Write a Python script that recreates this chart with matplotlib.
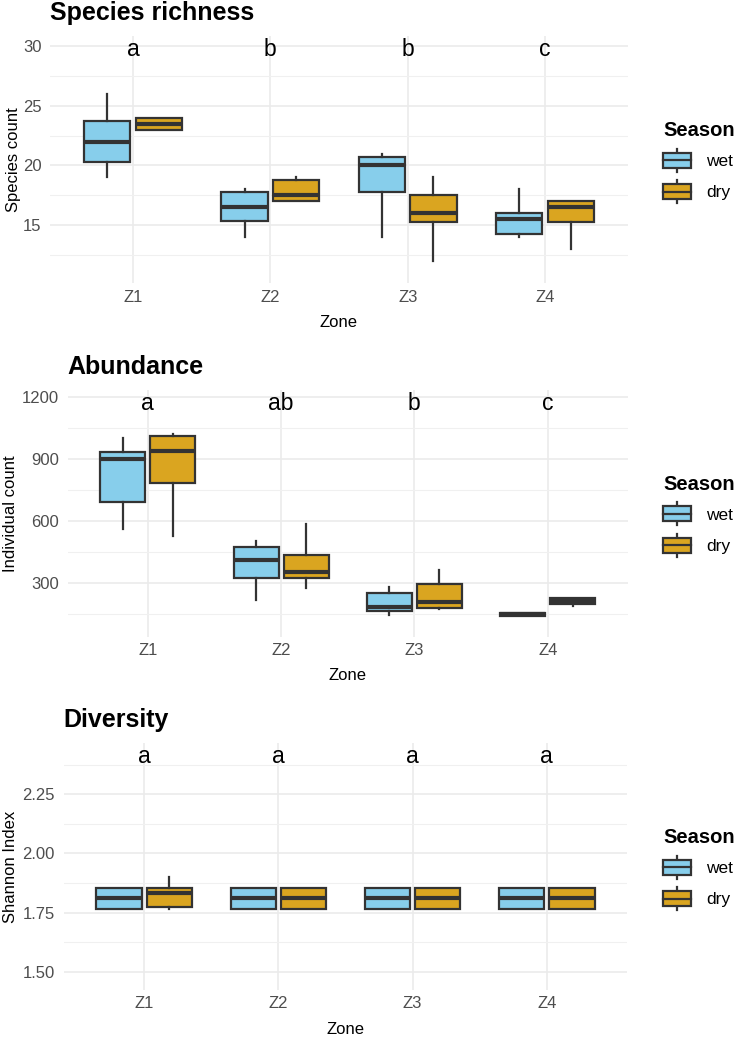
import numpy as np
import matplotlib.pyplot as plt
import matplotlib
from matplotlib.patches import Patch, Rectangle
from matplotlib.lines import Line2D
from matplotlib.legend_handler import HandlerBase
from matplotlib.ticker import MultipleLocator, FormatStrFormatter

plt.rcParams['font.family'] = ['Liberation Sans', 'DejaVu Sans']

zones = ['Z1', 'Z2', 'Z3', 'Z4']
seasons = ['wet', 'dry']

# five-number summaries per zone: (whisker low, q1, median, q3, whisker high)
rich_wet = [(19, 20.25, 22, 23.75, 26), (14, 15.3, 16.5, 17.75, 18),
            (14, 17.75, 20, 20.75, 21), (14, 14.25, 15.5, 16, 18)]
rich_dry = [(23, 23, 23.5, 24, 24), (17, 17, 17.5, 18.75, 19),
            (12, 15.25, 16, 17.5, 19), (13, 15.25, 16.5, 17, 17)]
rich_letters = ['a', 'b', 'b', 'c']

abund_wet = [(560, 692, 900, 932, 1000), (216, 323, 410, 475, 502),
             (143, 163, 180, 250, 281), (140, 140, 147, 154, 154)]
abund_dry = [(527, 785, 938, 1014, 1023), (274, 321, 350, 436, 583),
             (171, 179, 208, 292, 362), (188, 195, 212, 225, 225)]
abund_letters = ['a', 'ab', 'b', 'c']

div_wet = [(1.764, 1.764, 1.81, 1.855, 1.855), (1.764, 1.764, 1.81, 1.855, 1.855),
           (1.764, 1.764, 1.81, 1.855, 1.855), (1.764, 1.764, 1.81, 1.855, 1.855)]
div_dry = [(1.764, 1.775, 1.834, 1.855, 1.90), (1.764, 1.764, 1.81, 1.855, 1.855),
           (1.764, 1.764, 1.81, 1.855, 1.855), (1.764, 1.764, 1.81, 1.855, 1.855)]
div_letters = ['a', 'a', 'a', 'a']

colors = {'wet': '#87CEEB', 'dry': '#DAA520'}
edge = '#333333'
W, H = 737, 1039


class BoxKey(HandlerBase):
    def create_artists(self, legend, orig_handle, xdescent, ydescent,
                       width, height, fontsize, trans):
        x0, y0 = -xdescent, -ydescent
        bh = height * 0.67
        cy = y0 + height / 2
        cx = x0 + width / 2
        wl = Line2D([cx, cx], [y0, y0 + height], color=edge, lw=1.6, transform=trans)
        rect = Rectangle((x0, cy - bh / 2), width, bh, facecolor=orig_handle.get_facecolor(),
                         edgecolor=edge, lw=1.6, transform=trans)
        med = Line2D([x0, x0 + width], [cy, cy], color=edge, lw=1.6, transform=trans)
        return [wl, rect, med]


def stats(rows):
    return [dict(whislo=r[0], q1=r[1], med=r[2], q3=r[3], whishi=r[4]) for r in rows]


def panel(box, title, ylabel, wet, dry, letters, ylim, major, minor, fmt, letter_y, ylab_x):
    l, r, t, b = box
    ax = fig.add_axes([l / W, 1 - b / H, (r - l) / W, (b - t) / H])
    x = np.arange(1, len(zones) + 1)
    for data, name, off in [(wet, 'wet', -0.1875), (dry, 'dry', 0.1875)]:
        ax.bxp(stats(data), positions=x + off, widths=0.3375, patch_artist=True,
               showfliers=False, showcaps=False, manage_ticks=False,
               boxprops=dict(facecolor=colors[name], edgecolor=edge, linewidth=1.6),
               medianprops=dict(color=edge, linewidth=3, solid_capstyle='butt'),
               whiskerprops=dict(color=edge, linewidth=1.6))
    for xi, lab in zip(x, letters):
        ax.text(xi, letter_y, lab, ha='center', va='baseline', fontsize=16.5, color='black')
    ax.set_xlim(0.4, 4.6)
    ax.set_ylim(*ylim)
    ax.set_xticks(x)
    ax.set_xticklabels(zones)
    ax.yaxis.set_major_locator(MultipleLocator(major))
    ax.yaxis.set_minor_locator(MultipleLocator(minor))
    ax.yaxis.set_major_formatter(FormatStrFormatter(fmt))
    ax.set_axisbelow(True)
    ax.grid(which='major', color='#EBEBEB', linewidth=1.2)
    ax.grid(which='minor', axis='y', color='#F0F0F0', linewidth=0.8)
    for s in ax.spines.values():
        s.set_visible(False)
    ax.tick_params(which='both', length=0, labelsize=12, labelcolor='#4D4D4D')
    ax.tick_params(axis='x', pad=4.5)
    ax.tick_params(axis='y', pad=6.5)
    ax.set_title(title, loc='left', fontsize=18, fontweight='bold', pad=11.4)
    ax.set_xlabel('Zone', fontsize=12)
    ax.xaxis.set_label_coords(0.5, -0.128)
    ax.set_ylabel(ylabel, fontsize=12)
    ax.yaxis.set_label_coords((ylab_x - l) / (r - l), 0.5)
    handles = [Patch(facecolor=colors[s], label=s) for s in seasons]
    ax.legend(handles=handles, handler_map={Patch: BoxKey()}, title='Season',
              loc='center left', bbox_to_anchor=((663 - l) / (r - l), 0.49),
              frameon=False, borderpad=0, borderaxespad=0, fontsize=12.5,
              title_fontproperties={'weight': 'bold', 'size': 14.5},
              handlelength=1.6, handleheight=1.64, labelspacing=0.5,
              handletextpad=0.9, alignment='left')
    return ax


fig = plt.figure(figsize=(W / 100, H / 100), dpi=100)

panel((50.5, 627.5, 36.3, 283.3), 'Species richness', 'Species count',
      rich_wet, rich_dry, rich_letters, (10.1, 30.85), 5, 2.5, '%d', 29.2, 21.5)
panel((67.7, 627.7, 389.8, 636.7), 'Abundance', 'Individual count',
      abund_wet, abund_dry, abund_letters, (38, 1236), 300, 150, '%d', 1138, 18)
panel((63.8, 627.2, 743.3, 990), 'Diversity', 'Shannon Index',
      div_wet, div_dry, div_letters, (1.4226, 2.466), 0.25, 0.125, '%.2f', 2.381, 18)

fig.savefig('out.png', dpi=100)
